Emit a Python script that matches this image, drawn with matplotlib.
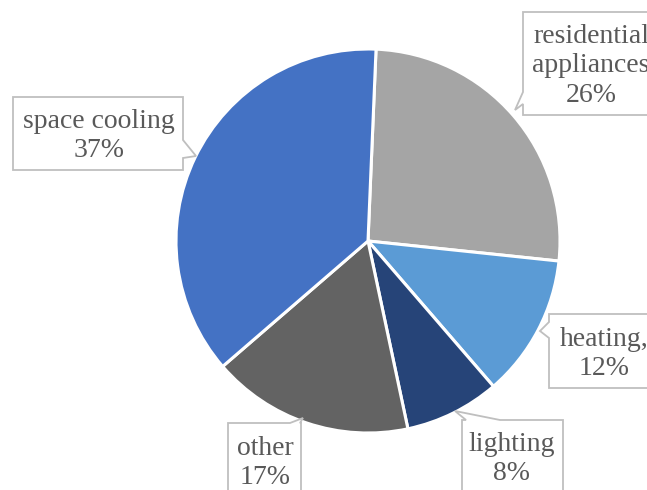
import matplotlib
matplotlib.use("Agg")
import matplotlib.pyplot as plt
from matplotlib.patches import Polygon

# Data (clockwise from top)
categories = ["residential\nappliances", "heating,", "lighting", "other", "space cooling"]
values = [26, 12, 8, 17, 37]
colors = ["#A5A5A5", "#5B9BD5", "#264478", "#636363", "#4472C4"]

W, H = 647, 490
fig = plt.figure(figsize=(W / 100, H / 100), dpi=100)
ax = fig.add_axes([0, 0, 1, 1])

def Y(y):
    return H - y

cx, cy, r = 368, 241, 192
ax.pie(values, colors=colors, startangle=87.6, counterclock=False,
       center=(cx, Y(cy)), radius=r,
       wedgeprops=dict(edgecolor="white", linewidth=2.2))

edge = "#BFBFBF"

def callout(x0, y0, x1, y1, side, b0, b1, tip):
    pts = []
    tl, tr, br, bl = (x0, y0), (x1, y0), (x1, y1), (x0, y1)
    pts.append(tl)
    if side == "top":
        pts += [(b0, y0), tip, (b1, y0)]
    pts.append(tr)
    if side == "right":
        pts += [(x1, b0), tip, (x1, b1)]
    pts.append(br)
    if side == "bottom":
        pts += [(b1, y1), tip, (b0, y1)]
    pts.append(bl)
    if side == "left":
        pts += [(x0, b1), tip, (x0, b0)]
    pts = [(x, Y(y)) for x, y in pts]
    ax.add_patch(Polygon(pts, closed=True, facecolor="white", edgecolor=edge,
                         linewidth=1.3, zorder=5))

# label boxes
boxes = [
    (523, 12, 680, 115, "left", 92, 104, (515, 110)),
    (549, 314, 680, 388, "left", 322, 338, (540, 331)),
    (462, 420, 563, 520, "top", 466, 500, (455, 411)),
    (228, 423, 301, 520, "top", 290, 300, (303, 418)),
    (13, 97, 183, 170, "right", 140, 158, (196, 156)),
]
text_pos = [(591, 66), (604, 354), (512, 459), (265, 463), (99, 136)]

for b, (tx, ty), cat, v in zip(boxes, text_pos, categories, values):
    callout(*b)
    ax.text(tx, Y(ty), f"{cat}\n{v}%", ha="center", va="center",
            multialignment="center", fontsize=20, family="Liberation Serif",
            color="#595959", linespacing=1.25, zorder=6)

ax.set_xlim(0, W)
ax.set_ylim(0, H)
ax.set_aspect("equal")
ax.axis("off")
fig.savefig("out.png", dpi=100)
